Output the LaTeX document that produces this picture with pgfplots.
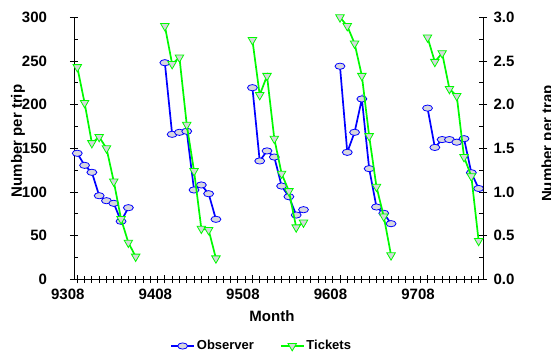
\documentclass[border=0pt]{standalone}
\usepackage{fontspec}
\setmainfont{Liberation Sans}
\usepackage{pgfplots}
\usepackage{pgfplotstable}
\pgfplotsset{compat=1.18}
\definecolor{obsblue}{RGB}{0,0,255}
\definecolor{tkgreen}{RGB}{0,250,0}
\definecolor{mkfill}{RGB}{215,215,222}

\pgfplotstableread{
month value
0 144.3
1 130.5
2 122.5
3 95.7
4 90
5 87
6 66.4
7 82
8 nan
12 248
13 166
14 168.3
15 169.5
16 102.3
17 108
18 98
19 68.7
20 nan
24 219.4
25 135.5
26 147
27 140
28 106.8
29 94.6
30 73.6
31 79.7
32 nan
36 244
37 145.4
38 168.3
39 206.5
40 126.7
41 82.8
42 75.6
43 63.7
44 nan
48 196
49 151
50 160
51 160
52 157
53 161
54 122
55 104
}\observer

\pgfplotstableread{
month value
0 2.43
1 2.02
2 1.56
3 1.63
4 1.50
5 1.12
6 0.69
7 0.42
8 0.26
9 nan
12 2.90
13 2.465
14 2.54
15 1.77
16 1.24
17 0.58
18 0.565
19 0.24
20 nan
24 2.74
25 2.11
26 2.33
27 1.61
28 1.21
29 1.01
30 0.595
31 0.65
32 nan
36 3.00
37 2.90
38 2.70
39 2.33
40 1.64
41 1.06
42 0.72
43 0.275
44 nan
48 2.77
49 2.49
50 2.59
51 2.18
52 2.10
53 1.40
54 1.18
55 0.44
}\tickets

\pgfplotsset{
  obsstyle/.style={obsblue, line width=1.7pt, mark=*, mark size=3.1pt,
    mark options={fill=mkfill, draw=obsblue, line width=0.8pt, xscale=1.6}},
  tkstyle/.style={tkgreen, line width=1.7pt, mark=triangle*, mark size=4.9pt,
    mark options={rotate=180, fill=mkfill, draw=tkgreen, line width=0.8pt}},
  common/.style={
    width=409pt, height=262pt, scale only axis,
    at={(74pt,73.7pt)}, anchor=south west,
    xmin=-0.45, xmax=55.6,
    axis line style={-, line width=0.9pt, black},
    tick style={black, line width=0.8pt},
    tick align=center, major tick length=8pt, minor tick length=7pt,
    /pgf/number format/assume math mode=true,
    tick label style={font=\bfseries\fontsize{15}{18}\selectfont},
    label style={font=\bfseries\fontsize{15}{18}\selectfont},
    clip=false,
    unbounded coords=jump,
  }
}

\begin{document}
\begin{tikzpicture}
\useasboundingbox (0,0) rectangle (551pt,353pt);
\begin{axis}[common,
  axis x line*=bottom, axis y line*=left,
  ymin=0, ymax=300,
  ytick={0,50,100,150,200,250,300},
  extra y ticks={25,75,125,175,225,275}, extra y tick labels={},
  extra y tick style={tick align=inside, major tick length=4pt},
  xtick={0,12,24,36,48},
  xticklabels={9308,9408,9508,9608,9708},
  minor xtick={0,1,...,55},
  xticklabel style={xshift=-9.5pt, yshift=-2pt},
  yticklabel style={xshift=-19.5pt},
  xlabel={Month}, ylabel={Number per trip},
  xlabel style={at={(axis description cs:0.484,-0.142)}, anchor=center},
  ylabel style={at={(axis description cs:-0.137,0.528)}, anchor=center},
]
\addplot[obsstyle] table[x=month, y=value] {\observer};
\end{axis}
\begin{axis}[common,
  axis x line=none, axis y line*=right,
  ymin=0, ymax=3,
  ytick={0,0.5,1,1.5,2,2.5,3},
  yticklabel style={/pgf/number format/fixed, /pgf/number format/fixed zerofill, /pgf/number format/precision=1, xshift=3pt},
  extra y ticks={0.25,0.75,1.25,1.75,2.25,2.75}, extra y tick labels={},
  extra y tick style={tick align=inside, major tick length=4pt},
  ylabel={Number per trap},
  ylabel style={at={(axis description cs:1.160,0.518)}, anchor=center},
  legend columns=2,
  legend image code/.code={\draw[mark repeat=2,mark phase=2] plot coordinates {(0cm,0cm)(0.4cm,0cm)(0.8cm,0cm)};},
  legend style={at={(axis description cs:0.459,-0.2546)}, anchor=center, draw=none, fill=none,
    font=\bfseries\fontsize{13}{15}\selectfont,
    /tikz/every even column/.append style={column sep=24pt}},
]
\addlegendimage{obsstyle}
\addlegendentry{Observer}
\addplot[tkstyle] table[x=month, y=value] {\tickets};
\addlegendentry{Tickets}
\end{axis}
\end{tikzpicture}
\end{document}
